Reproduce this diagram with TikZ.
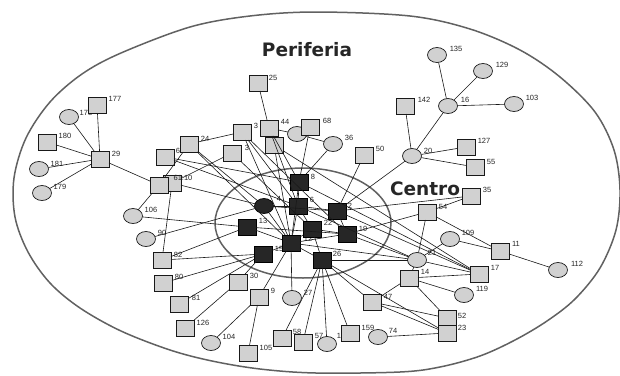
\documentclass[tikz,border=0pt]{standalone}
\usepackage{fontspec}
\setmainfont{Liberation Sans}
\newfontfamily\titlefont{DejaVu Sans}
\usetikzlibrary{shapes.geometric}
\tikzset{
 nbase/.style={draw=black!90, line width=0.7pt, inner sep=0pt, outer sep=0pt},
 sq/.style={nbase, rectangle, minimum width=18pt, minimum height=16pt, fill=black!18},
 ci/.style={nbase, ellipse, minimum width=19pt, minimum height=15pt, fill=black!18},
 dsq/.style={sq, fill=black!85, draw=black},
 dci/.style={ci, fill=black!85, draw=black},
 lab/.style={font=\fontsize{7.5}{8}\selectfont, inner sep=0pt, text=black!85},
 link/.style={draw=black!90, line width=0.6pt},
 ring/.style={draw=black!62, line width=1.5pt},
 ttl/.style={font=\titlefont\bfseries\fontsize{18.5}{20}\selectfont, text=black!85, inner sep=0pt, anchor=base},
}
\begin{document}
\begin{tikzpicture}[x=1pt,y=-1pt]
\fill[white] (0,0) rectangle (620,375);
\useasboundingbox (0,0) rectangle (620,375);
% rings
\draw[ring] plot[smooth cycle, tension=0.55] coordinates {(316,12) (410,16) (470,29) (520,50) (560,77) (595,112) (614,150) (620,190) (616,230) (600,268) (575,299) (547,321) (515,340) (480,356) (440,367) (400,372) (316,373) (260,369) (212,361) (170,350) (121,331) (80,308) (50,283) (28,252) (15,217) (14,178) (26,138) (50,102) (82,74) (121,53) (190,27) (250,16)};
\draw[ring] (303,223) ellipse [x radius=88pt, y radius=55pt];
% labels (under nodes)
\node[lab] (l177) at (115,99) {177};
\node[lab] (l178) at (86,113) {178};
\node[lab] (l180) at (65,136) {180};
\node[lab] (l29) at (116,154) {29};
\node[lab] (l181) at (57,164) {181};
\node[lab] (l179) at (60,187) {179};
\node[lab] (l66) at (180,151) {66};
\node[lab] (l24) at (205,139) {24};
\node[lab] (l3a) at (256,126) {3};
\node[lab] (l44) at (285,122) {44};
\node[lab] (l25) at (273,78) {25};
\node[lab] (l3b) at (247,148) {3};
\node[lab] (l68) at (327,121) {68};
\node[lab] (l36) at (349,138) {36};
\node[lab] (l50) at (380,149) {50};
\node[lab] (l135) at (456,49) {135};
\node[lab] (l129) at (502,65) {129};
\node[lab] (l16) at (465,100) {16};
\node[lab] (l103) at (532,98) {103};
\node[lab] (l142) at (424,100) {142};
\node[lab] (l20) at (428,151) {20};
\node[lab] (l127) at (484,141) {127};
\node[lab] (l55) at (491,162) {55};
\node[lab] (l35) at (487,190) {35};
\node[lab] (l54) at (443,207) {54};
\node[lab] (l109) at (468,233) {109};
\node[lab] (l11) at (516,244) {11};
\node[lab] (l112) at (577,264) {112};
\node[lab] (l21) at (432,253) {21};
\node[lab] (l17) at (495,268) {17};
\node[lab] (l14) at (425,272) {14};
\node[lab] (l119) at (482,289) {119};
\node[lab] (l52) at (462,316) {52};
\node[lab] (l23) at (462,328) {23};
\node[lab] (l47) at (388,297) {47};
\node[lab] (l74) at (393,331) {74};
\node[lab] (l159) at (368,328) {159};
\node[lab] (l1x) at (339,336) {1};
\node[lab] (l57) at (319,336) {57};
\node[lab] (l58) at (297,332) {58};
\node[lab] (l27) at (308,293) {27};
\node[lab] (l105) at (266,348) {105};
\node[lab] (l104) at (229,337) {104};
\node[lab] (l126) at (203,323) {126};
\node[lab] (l81) at (196,298) {81};
\node[lab] (l80) at (179,277) {80};
\node[lab] (l82) at (178,255) {82};
\node[lab] (l90) at (162,233) {90};
\node[lab] (l106) at (151,210) {106};
\node[lab] (l30) at (254,276) {30};
\node[lab] (l9) at (273,291) {9};
\node[lab] (l13) at (263,221) {13};
\node[lab] (l15) at (279,249) {15};
\node[lab] (l12) at (308,239) {12};
\node[lab] (l4) at (279,199) {4};
\node[lab] (l8) at (313,177) {8};
\node[lab] (l6) at (312,200) {6};
\node[lab] (l2) at (350,206) {2};
\node[lab] (l22) at (328,223) {22};
\node[lab] (l19) at (363,229) {19};
\node[lab] (l26) at (337,254) {26};
% light circles
\node[ci] (n178) at (69,117) {};
\node[ci] (n181) at (39,169) {};
\node[ci] (n179) at (42,193) {};
\node[ci] (n106) at (133,216) {};
\node[ci] (n90) at (146,239) {};
\node[ci] (n104) at (211,343) {};
\node[ci] (n27) at (292,298) {};
\node[ci] (n1x) at (327,344) {};
\node[ci] (n74) at (378,337) {};
\node[ci] (n119) at (464,295) {};
\node[ci] (n112) at (558,270) {};
\node[ci] (n109) at (450,239) {};
\node[ci] (n21) at (417,260) {};
\node[ci] (n20) at (412,156) {};
\node[ci] (n16) at (448,106) {};
\node[ci] (n135) at (437,55) {};
\node[ci] (n129) at (483,71) {};
\node[ci] (n103) at (514,104) {};
\node[ci] (n36) at (333,144) {};
\node[ci] (n7) at (297,134) {};
% light squares
\node[sq] (n177) at (97,105) {};
\node[sq] (n180) at (47,142) {};
\node[sq] (n29) at (100,159) {};
\node[sq] (n10) at (172,183) {};
\node[sq] (n61) at (159,185) {};
\node[sq] (n66) at (165,157) {};
\node[sq] (n24) at (189,144) {};
\node[sq] (n3a) at (242,132) {};
\node[sq] (n44) at (269,128) {};
\node[sq] (n25) at (258,83) {};
\node[sq] (n44b) at (274,145) {};
\node[sq] (n3b) at (232,153) {};
\node[sq] (n68) at (310,127) {};
\node[sq] (n50) at (364,155) {};
\node[sq] (n142) at (405,106) {};
\node[sq] (n127) at (466,147) {};
\node[sq] (n55) at (475,167) {};
\node[sq] (n54) at (427,212) {};
\node[sq] (n11) at (500,251) {};
\node[sq] (n17) at (479,274) {};
\node[sq] (n14) at (409,278) {};
\node[sq] (n52) at (447,318) {};
\node[sq] (n23) at (447,333) {};
\node[sq] (n47) at (372,302) {};
\node[sq] (n82) at (162,260) {};
\node[sq] (n80) at (163,283) {};
\node[sq] (n81) at (179,304) {};
\node[sq] (n126) at (185,328) {};
\node[sq] (n30) at (238,282) {};
\node[sq] (n9) at (259,297) {};
\node[sq] (n105) at (248,353) {};
\node[sq] (n58) at (282,338) {};
\node[sq] (n57) at (303,342) {};
\node[sq] (n159) at (350,333) {};
\node[sq] (n35) at (471,196) {};
% dark core
\node[dsq] (n8) at (299,182) {};
\node[dsq] (n6) at (298,206) {};
\node[dsq] (n2) at (337,211) {};
\node[dsq] (n13) at (247,227) {};
\node[dsq] (n22) at (312,229) {};
\node[dsq] (n19) at (347,234) {};
\node[dsq] (n12) at (291,243) {};
\node[dsq] (n15) at (263,254) {};
\node[dsq] (n26) at (322,260) {};
\node[dci] (n4) at (264,206) {};
\node[lab] (l6110) at (183,178) {61:10};
% links
\foreach \a/\b in {29/177,29/178,29/180,29/181,29/179,29/61,
 61/106,10/82,10/4,24/61,3b/10,24/3a,
 66/8,66/6,24/4,24/12,3a/6,3a/12,3a/19,3b/22,
 44/8,44/6,44b/12,44b/17,25/44,44/7,7/36,68/8,36/8,
 50/2,20/2,20/142,20/16,20/127,20/55,16/135,16/129,16/103,
 2/35,35/54,54/19,54/21,54/11,109/21,109/11,11/112,
 8/17,2/17,6/21,19/21,12/21,26/21,21/17,21/14,
 14/17,14/119,14/47,14/52,26/47,26/23,47/52,47/23,74/23,
 26/58,26/57,26/1x,26/159,12/27,12/9,9/104,9/105,
 15/30,30/126,15/81,15/80,15/82,13/82,90/4,106/13,
 8/6,6/12,4/6,4/12,6/2,13/12,13/19,12/19,12/22,6/22,2/19,22/26,12/26,15/12,4/2,8/12,22/19}
 \draw[link] (n\a) -- (n\b);
% titles
\node[ttl] (tper) at (307,56) {Periferia};
\node[ttl] (tcen) at (425,195) {Centro};
\end{tikzpicture}
\end{document}
